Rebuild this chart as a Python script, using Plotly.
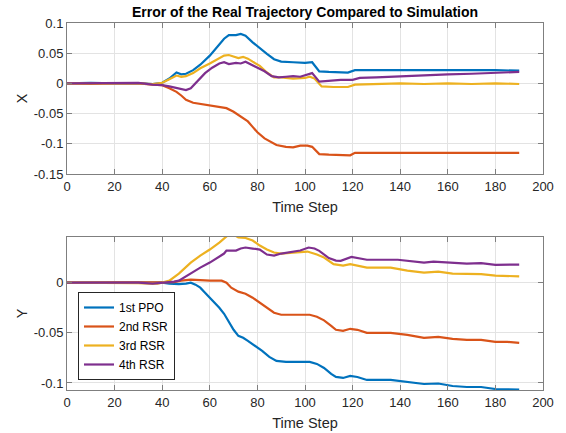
import plotly.graph_objects as go

# ---------------- data ----------------
names = ["1st PPO", "2nd RSR", "3rd RSR", "4th RSR"]
colors = ["#0072BD", "#D95319", "#EDB120", "#7E2F8E"]

# Top panel (X error)
x_ppo_t = [0, 10, 20, 30, 36, 40, 43, 46, 48, 50, 53, 56, 60, 63, 66, 68, 71, 73, 75, 78, 81, 84, 87, 90, 95, 100, 103, 106, 110, 115, 118, 121, 130, 140, 150, 160, 170, 180, 190]
y_ppo_t = [0, 0.001, 0, 0.0005, -0.001, 0.001, 0.008, 0.018, 0.015, 0.016, 0.022, 0.031, 0.046, 0.060, 0.074, 0.080, 0.080, 0.082, 0.079, 0.068, 0.058, 0.049, 0.040, 0.036, 0.035, 0.034, 0.035, 0.020, 0.019, 0.019, 0.018, 0.022, 0.022, 0.023, 0.022, 0.022, 0.023, 0.022, 0.021]

x_rsr2_t = [0, 10, 20, 30, 36, 40, 43, 46, 48, 50, 53, 56, 60, 63, 67, 70, 73, 76, 78, 80, 83, 86, 88, 92, 95, 98, 101, 103, 106, 110, 115, 119, 121, 130, 140, 150, 160, 170, 180, 190]
y_rsr2_t = [0, -0.001, 0, 0, -0.002, -0.003, -0.008, -0.014, -0.020, -0.027, -0.032, -0.034, -0.036, -0.038, -0.041, -0.047, -0.055, -0.063, -0.072, -0.081, -0.091, -0.098, -0.102, -0.105, -0.106, -0.103, -0.103, -0.105, -0.117, -0.118, -0.118, -0.119, -0.115, -0.115, -0.114, -0.115, -0.114, -0.115, -0.114, -0.115]

x_rsr3_t = [0, 10, 20, 30, 36, 40, 43, 46, 48, 50, 53, 56, 60, 63, 66, 68, 70, 72, 74, 76, 78, 81, 84, 87, 90, 95, 100, 102, 104, 107, 112, 118, 121, 130, 140, 150, 160, 170, 180, 190]
y_rsr3_t = [0, 0, 0.0005, 0, -0.001, 0.001, 0.007, 0.013, 0.011, 0.012, 0.017, 0.025, 0.033, 0.040, 0.046, 0.047, 0.045, 0.042, 0.044, 0.041, 0.036, 0.029, 0.018, 0.010, 0.010, 0.008, 0.009, 0.011, 0.008, -0.005, -0.006, -0.006, -0.002, -0.001, 0, -0.001, 0, -0.001, 0, -0.001]

x_rsr4_t = [0, 10, 20, 30, 36, 40, 43, 46, 48, 50, 52, 55, 58, 61, 64, 66, 68, 71, 73, 75, 77, 80, 83, 86, 89, 92, 95, 98, 101, 103, 106, 110, 115, 120, 123, 130, 140, 150, 160, 170, 180, 190]
y_rsr4_t = [0, 0, 0, 0.001, -0.002, -0.003, -0.005, -0.008, -0.010, -0.011, -0.008, 0.005, 0.017, 0.026, 0.033, 0.035, 0.032, 0.034, 0.033, 0.036, 0.032, 0.027, 0.020, 0.012, 0.010, 0.011, 0.012, 0.011, 0.015, 0.017, 0.003, 0.004, 0.006, 0.006, 0.009, 0.010, 0.012, 0.013, 0.015, 0.016, 0.018, 0.019]

# Bottom panel (Y error)
x_ppo_b = [0, 10, 20, 30, 35, 40, 43, 47, 50, 52, 54, 56, 58, 61, 64, 66, 68, 70, 72, 74, 76, 79, 82, 85, 88, 92, 97, 102, 105, 108, 111, 113, 116, 119, 122, 126, 136, 143, 150, 156, 162, 168, 174, 180, 185, 190]
y_ppo_b = [0, 0, 0, 0, -0.0005, 0, -0.001, -0.0015, -0.001, 0, -0.002, -0.005, -0.010, -0.017, -0.025, -0.031, -0.039, -0.047, -0.053, -0.055, -0.058, -0.063, -0.068, -0.074, -0.078, -0.079, -0.079, -0.079, -0.081, -0.085, -0.091, -0.094, -0.095, -0.093, -0.094, -0.097, -0.097, -0.099, -0.101, -0.1005, -0.103, -0.104, -0.104, -0.106, -0.106, -0.1065]

x_rsr2_b = [0, 30, 40, 45, 48, 52, 60, 65, 67, 69, 72, 75, 78, 81, 84, 87, 90, 95, 102, 105, 108, 111, 113, 116, 119, 122, 126, 136, 143, 150, 156, 162, 168, 174, 180, 185, 190]
y_rsr2_b = [0, 0, 0, 0.0005, 0.002, 0.003, 0.002, 0.002, 0, -0.005, -0.009, -0.011, -0.015, -0.020, -0.025, -0.030, -0.032, -0.032, -0.032, -0.034, -0.0376, -0.043, -0.047, -0.048, -0.046, -0.047, -0.050, -0.050, -0.052, -0.055, -0.054, -0.056, -0.057, -0.057, -0.059, -0.059, -0.060]

x_rsr3_b = [0, 20, 30, 35, 38, 40, 43, 47, 50, 52, 56, 60, 64, 66, 68, 70, 72, 75, 78, 81, 84, 87, 90, 95, 101, 105, 108, 112, 116, 119, 122, 126, 136, 143, 150, 156, 162, 168, 174, 180, 185, 190]
y_rsr3_b = [0, 0, -0.0005, -0.001, -0.001, 0, 0.002, 0.009, 0.016, 0.020, 0.027, 0.033, 0.040, 0.044, 0.048, 0.048, 0.045, 0.0445, 0.042, 0.037, 0.033, 0.030, 0.029, 0.030, 0.031, 0.028, 0.025, 0.0185, 0.017, 0.0185, 0.017, 0.015, 0.015, 0.012, 0.010, 0.011, 0.009, 0.0086, 0.0085, 0.007, 0.007, 0.0063]

x_rsr4_b = [0, 30, 36, 39, 42, 45, 47, 49, 52, 56, 60, 64, 66, 67, 71, 73, 75, 78, 81, 84, 87, 90, 95, 98, 101.5, 104, 106, 110, 113, 115, 119.5, 123, 126, 139, 146, 150, 154, 160, 168, 174, 180, 190]
y_rsr4_b = [0, 0, -0.001, -0.0005, 0, 0.001, 0.002, 0.005, 0.009, 0.015, 0.020, 0.0257, 0.029, 0.032, 0.032, 0.034, 0.035, 0.034, 0.033, 0.028, 0.027, 0.029, 0.031, 0.032, 0.035, 0.034, 0.0317, 0.0245, 0.022, 0.0218, 0.0257, 0.024, 0.0228, 0.0228, 0.021, 0.020, 0.021, 0.020, 0.019, 0.0195, 0.0178, 0.018]

x_ticks = [0, 20, 40, 60, 80, 100, 120, 140, 160, 180, 200]
y_ticks_top = [-0.15, -0.1, -0.05, 0, 0.05, 0.1]
y_ticks_bot = [-0.1, -0.05, 0]

title_text = "Error of the Real Trajectory Compared to Simulation"

# ---------------- figure ----------------
W, H = 566, 433
FONT = "Liberation Sans, Arial, sans-serif"
TXT = "#262626"

top_series = [(x_ppo_t, y_ppo_t), (x_rsr2_t, y_rsr2_t), (x_rsr3_t, y_rsr3_t), (x_rsr4_t, y_rsr4_t)]
bot_series = [(x_ppo_b, y_ppo_b), (x_rsr2_b, y_rsr2_b), (x_rsr3_b, y_rsr3_b), (x_rsr4_b, y_rsr4_b)]

fig = go.Figure()
for i, (xs, ys) in enumerate(top_series):
    fig.add_trace(go.Scatter(x=xs, y=ys, mode="lines", name=names[i],
                             line=dict(color=colors[i], width=2.2),
                             xaxis="x", yaxis="y", showlegend=False))
for i, (xs, ys) in enumerate(bot_series):
    fig.add_trace(go.Scatter(x=xs, y=ys, mode="lines", name=names[i],
                             line=dict(color=colors[i], width=2.2),
                             xaxis="x2", yaxis="y2", showlegend=True))

xdom = [67 / W, 543 / W]
ydom_top = [(H - 174) / H, (H - 23) / H]
ydom_bot = [(H - 390) / H, (H - 237) / H]

axis_common = dict(
    showline=True, linecolor="#7f7f7f", linewidth=1, mirror="ticks",
    ticks="inside", ticklen=5, tickcolor="#7f7f7f",
    showgrid=True, gridcolor="#e3e3e3", gridwidth=1,
    zeroline=False, automargin=False,
    tickfont=dict(family=FONT, size=13, color=TXT),
    title_font=dict(family=FONT, size=14.5, color=TXT),
)

fig.update_layout(
    width=W, height=H,
    margin=dict(l=0, r=0, t=0, b=0, autoexpand=False),
    paper_bgcolor="white", plot_bgcolor="white",
    font=dict(family=FONT, color=TXT),
    title=dict(text="<b>" + title_text + "</b>", x=(67 + 543) / 2 / W, xanchor="center",
               y=1 - 12 / H, yanchor="middle", automargin=False,
               font=dict(family=FONT, size=14, color="#000000")),
    xaxis=dict(domain=xdom, anchor="y", range=[0, 200], tickvals=x_ticks,
               title=dict(text="Time Step", standoff=9), **axis_common),
    yaxis=dict(domain=ydom_top, anchor="x", range=[-0.15, 0.1], tickvals=y_ticks_top,
               ticktext=[f"{v:g}" for v in y_ticks_top],
               title=dict(text="X", standoff=2), **axis_common),
    xaxis2=dict(domain=xdom, anchor="y2", range=[0, 200], tickvals=x_ticks,
                title=dict(text="Time Step", standoff=9), **axis_common),
    yaxis2=dict(domain=ydom_bot, anchor="x2", range=[-0.107, 0.0455], tickvals=y_ticks_bot,
                ticktext=[f"{v:g}" for v in y_ticks_bot],
                title=dict(text="Y", standoff=2), **axis_common),
    legend=dict(x=78 / W, y=(H - 292) / H, xanchor="left", yanchor="top",
                bgcolor="white", bordercolor=TXT, borderwidth=1,
                font=dict(family=FONT, size=12, color="#000000"),
                tracegroupgap=0),
    showlegend=True,
)

fig.write_html("out.html", config={"displayModeBar": False},
               post_script="document.body.style.margin='0';")
